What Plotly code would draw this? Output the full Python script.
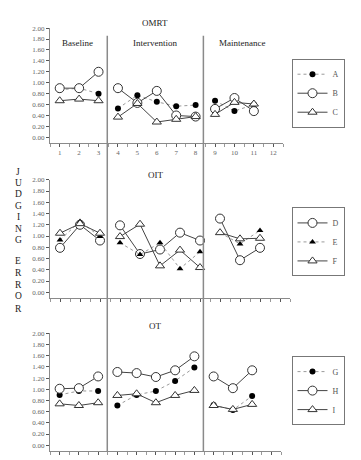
import plotly.graph_objects as go

W, H = 361, 460

sessions = [1, 2, 3, 4, 5, 6, 7, 8, 9, 10, 11]
x_tick_vals = [1, 2, 3, 4, 5, 6, 7, 8, 9, 10, 11, 12]
y_tick_vals = [0.0, 0.2, 0.4, 0.6, 0.8, 1.0, 1.2, 1.4, 1.6, 1.8, 2.0]
phase_labels = ["Baseline", "Intervention", "Maintenance"]
phase_change_after = [3, 8]
phase_lines = [3.45, 8.4]
panel_titles = ["OMRT", "OIT", "OT"]

omrt_A = [0.87, 0.90, 0.80, 0.53, 0.77, 0.65, 0.57, 0.59, 0.67, 0.48, 0.60]
omrt_B = [0.90, 0.90, 1.20, 0.90, 0.63, 0.85, 0.40, 0.38, 0.52, 0.72, 0.48]
omrt_C = [0.67, 0.70, 0.67, 0.37, 0.62, 0.28, 0.33, 0.38, 0.42, 0.64, 0.61]

oit_D = [0.79, 1.20, 0.92, 1.19, 0.68, 0.76, 1.06, 0.92, 1.31, 0.57, 0.79]
oit_E = [0.93, 1.26, 0.99, 0.88, 0.67, 0.88, 0.42, 0.72, 1.06, 0.86, 1.10]
oit_F = [1.05, 1.22, 1.05, 0.99, 1.21, 0.47, 0.75, 0.44, 1.06, 0.95, 0.96]

ot_G = [0.90, 0.97, 0.97, 0.71, 0.90, 0.97, 1.15, 1.39, 0.72, 0.63, 0.88]
ot_H = [1.01, 1.02, 1.23, 1.31, 1.29, 1.22, 1.34, 1.59, 1.23, 1.02, 1.34]
ot_I = [0.74, 0.71, 0.76, 0.89, 0.92, 0.76, 0.89, 0.98, 0.71, 0.64, 0.73]

SERIF = "Liberation Serif, Times New Roman, serif"


def with_gaps(xs, ys):
    ox, oy = [], []
    for xv, yv in zip(xs, ys):
        ox.append(xv)
        oy.append(yv)
        if xv in phase_change_after:
            ox.append(None)
            oy.append(None)
    return ox, oy


styles = {
    "filled_circle": dict(marker=dict(symbol="circle", size=6, color="black",
                                      line=dict(color="black", width=0)),
                          line=dict(color="#9a9a9a", width=1, dash="dot")),
    "open_circle": dict(marker=dict(symbol="circle", size=9, color="white",
                                    line=dict(color="#333", width=1)),
                        line=dict(color="#444", width=1)),
    "open_tri": dict(marker=dict(symbol="triangle-up", size=8, color="white",
                                 line=dict(color="#333", width=1)),
                     line=dict(color="#444", width=1)),
    "small_tri": dict(marker=dict(symbol="triangle-up", size=6, color="black",
                                  line=dict(color="black", width=0)),
                      line=dict(color="#9a9a9a", width=1, dash="dot")),
}

panels = [
    (1, "legend", [("A", omrt_A, "filled_circle"), ("B", omrt_B, "open_circle"), ("C", omrt_C, "open_tri")]),
    (2, "legend2", [("D", oit_D, "open_circle"), ("E", oit_E, "small_tri"), ("F", oit_F, "open_tri")]),
    (3, "legend3", [("G", ot_G, "filled_circle"), ("H", ot_H, "open_circle"), ("I", ot_I, "open_tri")]),
]

fig = go.Figure()
for idx, leg, series in panels:
    xa = "x" if idx == 1 else f"x{idx}"
    ya = "y" if idx == 1 else f"y{idx}"
    for name, vals, st in series:
        gx, gy = with_gaps(sessions, vals)
        fig.add_trace(go.Scatter(x=gx, y=gy, mode="lines+markers", name=name,
                                 xaxis=xa, yaxis=ya, legend=leg,
                                 connectgaps=False, cliponaxis=False,
                                 marker=styles[st]["marker"], line=styles[st]["line"]))


def px_x(p):
    return p / W


def px_y(p):
    return 1 - p / H


axis_color = "#8a8a8a"
tick_font = dict(family=SERIF, size=7, color="#666")

# (x-left px, x-right px, y-top px (value 2.0), y-bottom px (axis line))
geoms = {1: (50, 283, 24.3, 140), 2: (50, 290, 177.3, 296.5), 3: (50, 281, 332.3, 450.7)}

layout = dict(width=W, height=H, margin=dict(l=0, r=0, t=0, b=0),
              plot_bgcolor="white", paper_bgcolor="white", showlegend=True)

for idx, (xl, xr, yt, yb) in geoms.items():
    xk = "xaxis" if idx == 1 else f"xaxis{idx}"
    yk = "yaxis" if idx == 1 else f"yaxis{idx}"
    ya = "y" if idx == 1 else f"y{idx}"
    xa = "x" if idx == 1 else f"x{idx}"
    layout[xk] = dict(domain=[px_x(xl), px_x(xr)], range=[0.5, 12.5], anchor=ya,
                      showgrid=False, zeroline=False, showline=True, linecolor=axis_color,
                      linewidth=1, ticks="outside", ticklen=3, tickcolor="#555",
                      tickvals=x_tick_vals, ticktext=[str(v) for v in x_tick_vals],
                      showticklabels=(idx == 1), tickfont=tick_font,
                      minor=dict(dtick=0.5, tick0=0.5, ticks="outside", ticklen=3, tickcolor="#999"))
    layout[yk] = dict(domain=[px_y(yb), px_y(yt)], range=[-0.1, 2.0], anchor=xa,
                      showgrid=False, zeroline=False, showline=True, linecolor=axis_color,
                      linewidth=1, ticks="outside", ticklen=3, tickcolor="#555",
                      tickvals=y_tick_vals, tickformat=".2f", tickfont=tick_font)

legend_common = dict(bordercolor="#777", borderwidth=1, bgcolor="white",
                     font=dict(family=SERIF, size=8, color="#555"),
                     itemwidth=30, tracegroupgap=0, xanchor="center", yanchor="middle",
                     xref="paper", yref="paper", itemclick=False, itemdoubleclick=False)
layout["legend"] = dict(legend_common, x=px_x(318), y=px_y(90))
layout["legend2"] = dict(legend_common, x=px_x(318), y=px_y(240))
layout["legend3"] = dict(legend_common, x=px_x(318), y=px_y(390))

fig.update_layout(**layout)

# phase-change lines spanning all panels
for xv in phase_lines:
    fig.add_shape(type="line", xref="x", yref="paper", x0=xv, x1=xv,
                  y0=px_y(452), y1=px_y(32), line=dict(color="#8a8a8a", width=1.5))

title_font = dict(family=SERIF, size=9, color="#222")
anns = []
for t, yy in zip(panel_titles, [19, 173, 325]):
    anns.append(dict(text=t, x=px_x(155), y=px_y(yy), xref="paper", yref="paper",
                     showarrow=False, font=title_font, xanchor="center", yanchor="middle"))
for t, xx in zip(phase_labels, [77, 155, 242]):
    anns.append(dict(text=t, x=px_x(xx), y=px_y(39), xref="paper", yref="paper",
                     showarrow=False, font=title_font, xanchor="center", yanchor="middle"))

letters = ["J", "U", "D", "G", "I", "N", "G", "E", "R", "R", "O", "R"]
letter_y = [169, 180.5, 192, 203.5, 215, 227, 238, 259, 271, 283, 295, 308]
for ch, yy in zip(letters, letter_y):
    anns.append(dict(text=ch, x=px_x(18), y=px_y(yy), xref="paper", yref="paper",
                     showarrow=False, font=dict(family=SERIF, size=9.5, color="#222"),
                     xanchor="center", yanchor="middle"))
fig.update_layout(annotations=anns)

fig.write_html("out.html", config={"displayModeBar": False},
               post_script="document.body.style.margin='0';")
